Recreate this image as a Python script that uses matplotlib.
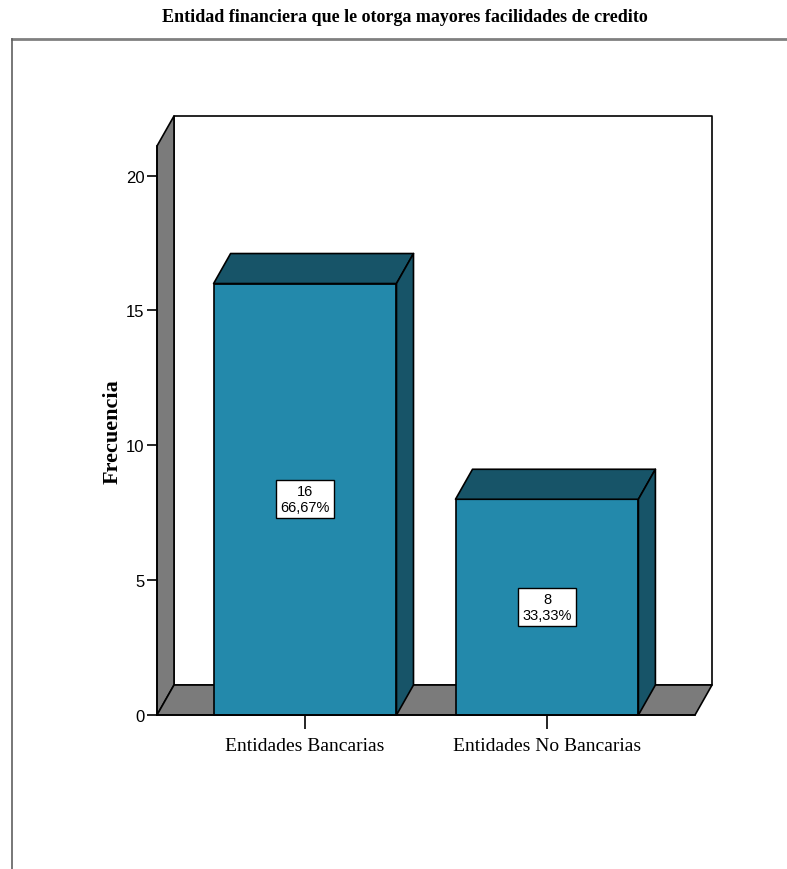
import matplotlib

matplotlib.use("Agg")
import matplotlib.pyplot as plt
from matplotlib.lines import Line2D
from matplotlib.patches import Polygon

categories = ["Entidades Bancarias", "Entidades No Bancarias"]
counts = [16, 8]
percents = ["66,67%", "33,33%"]
y_ticks = [0, 5, 10, 15, 20]
title = "Entidad financiera que le otorga mayores facilidades de credito"
y_label = "Frecuencia"

FRONT = "#2389ab"
DARK = "#175468"
WALL = "#7b7b7b"
DEPTH_PX = (17, 30)
BAR_W = 0.756

fig = plt.figure(figsize=(7.87, 8.70), dpi=100)
ax = fig.add_axes([157 / 787, (870 - 716) / 870, 538 / 787, 569 / 870])
ax.set_xlim(-0.612, 1.612)
ax.set_ylim(0, 21.1)
ax.patch.set_visible(False)

# depth offset in data units
x0, y0 = ax.transData.inverted().transform((0, 0))
x1, y1 = ax.transData.inverted().transform(DEPTH_PX)
dx, dy = x1 - x0, y1 - y0

xmin, xmax = ax.get_xlim()
ymin, ymax = ax.get_ylim()


def face(pts, color, z):
    ax.add_patch(Polygon(pts, closed=True, facecolor=color, edgecolor="black",
                         linewidth=1.2, zorder=z, clip_on=False, joinstyle="round"))


# back wall, side wall, floor
face([(xmin + dx, ymin + dy), (xmax + dx, ymin + dy), (xmax + dx, ymax + dy), (xmin + dx, ymax + dy)], "white", 1)
face([(xmin, ymin), (xmin + dx, ymin + dy), (xmin + dx, ymax + dy), (xmin, ymax)], WALL, 2)
face([(xmin, ymin), (xmax, ymin), (xmax + dx, ymin + dy), (xmin + dx, ymin + dy)], WALL, 2)

for i, (c, p) in enumerate(zip(counts, percents)):
    l, r = i - BAR_W / 2, i + BAR_W / 2
    face([(l, 0), (r, 0), (r, c), (l, c)], FRONT, 3)
    face([(l, c), (r, c), (r + dx, c + dy), (l + dx, c + dy)], DARK, 3)
    face([(r, 0), (r + dx, dy), (r + dx, c + dy), (r, c)], DARK, 3)
    ax.text(i, c / 2, f"{c}\n{p}", ha="center", va="center", fontsize=10.5,
            family="Liberation Sans", linespacing=1.15, zorder=5,
            bbox=dict(boxstyle="square,pad=0.3", facecolor="white", edgecolor="black", linewidth=1))

for s in ["top", "right"]:
    ax.spines[s].set_visible(False)
for s in ["left", "bottom"]:
    ax.spines[s].set_linewidth(1.2)
    ax.spines[s].set_zorder(4)

ax.set_yticks(y_ticks)
ax.set_xticks(range(len(categories)))
ax.set_xticklabels(categories, family="Liberation Serif", fontsize=14)
ax.tick_params(axis="y", length=7, width=1.2, pad=2, labelsize=12)
ax.tick_params(axis="x", length=10, width=1.2, pad=6)
for t in ax.get_yticklabels():
    t.set_family("Liberation Sans")

ax.set_ylabel(y_label, family="Liberation Serif", fontweight="bold", fontsize=16, labelpad=2)

fig.text(405 / 787, 1 - 18 / 870, title, ha="center", va="center",
         family="Liberation Serif", fontweight="bold", fontsize=13)

# outer frame
fig.add_artist(Line2D([12 / 787, 1], [1 - 40 / 870] * 2, transform=fig.transFigure, color="#808080", linewidth=2))
fig.add_artist(Line2D([12 / 787] * 2, [0, 1 - 40 / 870], transform=fig.transFigure, color="#606060", linewidth=1.2))

fig.savefig("out.png", dpi=100)
